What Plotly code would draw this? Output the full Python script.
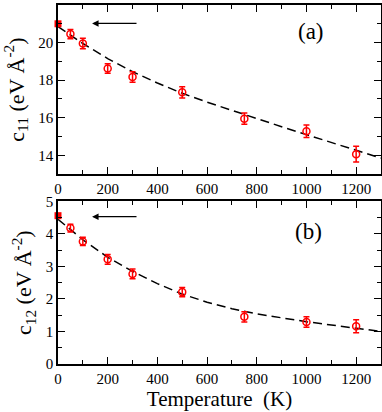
import plotly.graph_objects as go
from plotly.subplots import make_subplots

# measured points (temperature in K)
temps = [50, 100, 200, 300, 500, 750, 1000, 1200]
c11 = [20.45, 19.95, 18.62, 18.17, 17.35, 15.95, 15.28, 14.06]
c11_err = [0.25, 0.28, 0.25, 0.28, 0.3, 0.3, 0.33, 0.42]
c12 = [4.18, 3.77, 3.22, 2.77, 2.21, 1.45, 1.29, 1.16]
c12_err = [0.12, 0.13, 0.15, 0.15, 0.14, 0.16, 0.16, 0.2]

# zero-temperature values (filled squares)
t0 = [0]
c11_0 = [21.0]
c12_0 = [4.56]

# dashed fit curves
fit_t = [0, 100, 200, 300, 400, 500, 600, 700, 800, 900, 1000, 1100, 1200, 1300]
c11_fit = [20.85, 19.95, 19.15, 18.45, 17.85, 17.3, 16.83, 16.38, 15.95, 15.52, 15.1, 14.68, 14.26, 13.85]
c12_fit = [4.45, 3.82, 3.28, 2.85, 2.47, 2.15, 1.9, 1.7, 1.54, 1.41, 1.3, 1.2, 1.1, 1.0]

red = '#ff0000'
fnt = 'Liberation Serif, Times New Roman, serif'

fig = make_subplots(rows=2, cols=1, vertical_spacing=0.077)

for row, vals, errs, zero, fit in [(1, c11, c11_err, c11_0, c11_fit),
                                   (2, c12, c12_err, c12_0, c12_fit)]:
    fig.add_trace(go.Scatter(x=fit_t, y=fit, mode='lines',
                             line=dict(color='black', width=1.5, dash='9px,5px')),
                  row=row, col=1)
    fig.add_trace(go.Scatter(x=temps, y=vals, mode='markers',
                             marker=dict(symbol='circle-open', size=7, color=red,
                                         line=dict(width=1.5, color=red)),
                             error_y=dict(type='data', array=errs, color=red,
                                          thickness=1.5, width=3)),
                  row=row, col=1)
    fig.add_trace(go.Scatter(x=t0, y=zero, mode='markers', cliponaxis=False,
                             marker=dict(symbol='square', size=7, color=red)),
                  row=row, col=1)

axis_style = dict(showline=True, linecolor='black', linewidth=1.5, mirror='allticks',
                  ticks='inside', ticklen=7, tickwidth=1.2, tickcolor='black',
                  showgrid=False, zeroline=False, automargin=False,
                  tickfont=dict(family=fnt, size=15, color='black'))

for row in [1, 2]:
    fig.update_xaxes(range=[0, 1300], dtick=200,
                     minor=dict(dtick=100, ticks='inside', ticklen=4, tickcolor='black'),
                     **axis_style, row=row, col=1)

fig.update_yaxes(range=[13, 22], dtick=2, domain=[0.529, 1],
                 minor=dict(dtick=1, ticks='inside', ticklen=4, tickcolor='black'),
                 title=dict(text='c<sub>11</sub> (eV Å<sup>-2</sup>)', standoff=8,
                            font=dict(family=fnt, size=22, color='black')),
                 **axis_style, row=1, col=1)
fig.update_yaxes(range=[0, 5], dtick=1, domain=[0, 0.453],
                 minor=dict(dtick=0.5, ticks='inside', ticklen=4, tickcolor='black'),
                 title=dict(text='c<sub>12</sub> (eV Å<sup>-2</sup>)', standoff=8,
                            font=dict(family=fnt, size=22, color='black')),
                 **axis_style, row=2, col=1)
fig.update_xaxes(title=dict(text='Temperature  (K)', standoff=4,
                            font=dict(family=fnt, size=21, color='black')),
                 row=2, col=1)

# arrows pointing at the zero-temperature values
fig.add_annotation(x=137, y=21.02, ax=322, ay=21.02, xref='x', yref='y',
                   axref='x', ayref='y', showarrow=True, arrowhead=2,
                   arrowsize=1, arrowwidth=1.3, arrowcolor='black', text='')
fig.add_annotation(x=137, y=4.53, ax=322, ay=4.53, xref='x2', yref='y2',
                   axref='x2', ayref='y2', showarrow=True, arrowhead=2,
                   arrowsize=1, arrowwidth=1.3, arrowcolor='black', text='')

# panel labels
fig.add_annotation(x=1020, y=20.6, xref='x', yref='y', text='(a)', showarrow=False,
                   yanchor='middle', font=dict(family=fnt, size=23, color='black'))
fig.add_annotation(x=0.774, y=0.369, xref='paper', yref='paper', text='(b)',
                   showarrow=False, xanchor='center', yanchor='middle',
                   font=dict(family=fnt, size=23, color='black'))

fig.update_layout(width=382, height=412, showlegend=False,
                  margin=dict(l=58, r=1, t=5, b=48),
                  plot_bgcolor='white', paper_bgcolor='white',
                  font=dict(family=fnt, color='black'))

fig.write_html("out.html", config={'displayModeBar': False},
               post_script="document.body.style.margin='0px';")
